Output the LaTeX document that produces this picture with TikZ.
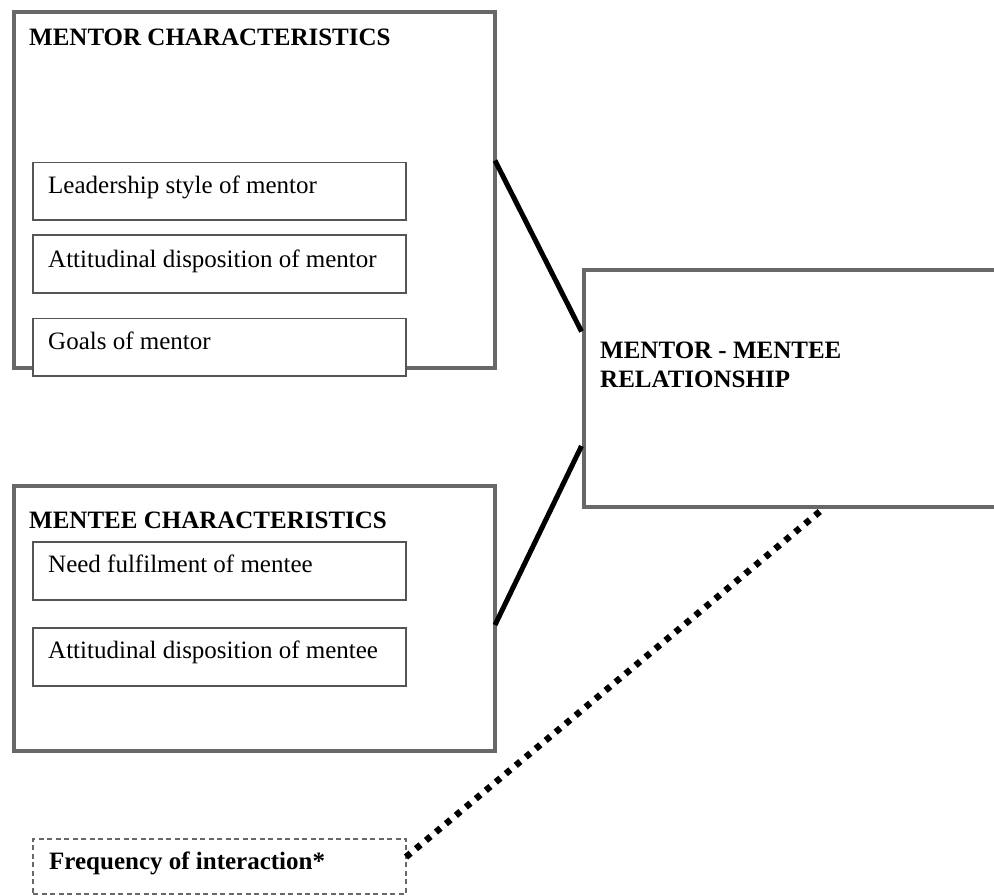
\documentclass[tikz,border=0pt]{standalone}
\usepackage{fontspec}
\setmainfont{Liberation Serif}
\begin{document}
\begin{tikzpicture}[x=1pt,y=-1pt,
  outerbox/.style={draw=boxgray,line width=4pt,fill=white},
  innerbox/.style={draw=innergray,line width=1.6pt,fill=white},
  txt/.style={font=\fontsize{25}{29}\selectfont,inner sep=0pt,anchor=base west},
  btxt/.style={txt,font=\fontsize{25}{29}\selectfont\bfseries},
  link/.style={line width=5pt,black},
  dotlink/.style={line width=6.5pt,black,dash pattern=on 6pt off 7pt}]
\definecolor{boxgray}{HTML}{686868}
\definecolor{innergray}{HTML}{555555}
\useasboundingbox (0,0) rectangle (994,895);
\clip (0,0) rectangle (994,895);
% mentor characteristics
\node[outerbox,minimum width=481.5pt,minimum height=356.5pt,anchor=north west,inner sep=0pt] (mentor) at (11.5,9.5) {};
\node[btxt] (mentortitle) at (29,45) {MENTOR CHARACTERISTICS};
\node[innerbox,minimum width=373pt,minimum height=57.5pt,anchor=north west,inner sep=0pt] (lead) at (32.3,161.5) {};
\node[txt] (leadt) at (48,193) {Leadership style of mentor};
\node[innerbox,minimum width=373pt,minimum height=58pt,anchor=north west,inner sep=0pt] (attm) at (32.3,234.3) {};
\node[txt] (attmt) at (48,267) {Attitudinal disposition of mentor};
\node[innerbox,minimum width=373pt,minimum height=57.5pt,anchor=north west,inner sep=0pt] (goals) at (32.3,317.5) {};
\node[txt] (goalst) at (48,349) {Goals of mentor};
% mentee characteristics
\node[outerbox,minimum width=481.5pt,minimum height=265pt,anchor=north west,inner sep=0pt] (mentee) at (11.5,483.5) {};
\node[btxt] (menteetitle) at (29,528) {MENTEE CHARACTERISTICS};
\node[innerbox,minimum width=373pt,minimum height=58pt,anchor=north west,inner sep=0pt] (need) at (32.3,541) {};
\node[txt] (needt) at (48,572) {Need fulfilment of mentee};
\node[innerbox,minimum width=373pt,minimum height=58pt,anchor=north west,inner sep=0pt] (atte) at (32.3,627) {};
\node[txt] (attet) at (48,658) {Attitudinal disposition of mentee};
% relationship
\node[outerbox,minimum width=430pt,minimum height=237pt,anchor=north west,inner sep=0pt] (rel) at (582,268) {};
\node[btxt,align=left,anchor=north west] (relt) at (600,341.5) {MENTOR - MENTEE\\RELATIONSHIP};
% frequency
\node[draw=boxgray,line width=1.8pt,dash pattern=on 5pt off 3.5pt,minimum width=373pt,minimum height=55pt,anchor=north west,inner sep=0pt] (freq) at (32.3,838) {};
\node[btxt] (freqt) at (49,869) {Frequency of interaction*};
% connectors
\coordinate (m1) at (495,160.5);
\coordinate (r1) at (581.5,331.5);
\coordinate (m2) at (495,625);
\coordinate (r2) at (581.5,446);
\coordinate (f1) at (406,857);
\coordinate (r3) at (824,508);
\draw[link] (m1) -- (r1);
\draw[link] (m2) -- (r2);
\draw[dotlink] (f1) -- (r3);
\end{tikzpicture}
\end{document}
